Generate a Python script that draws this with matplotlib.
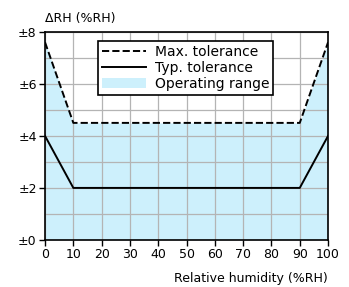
import matplotlib.pyplot as plt
import numpy as np

# data
rh = [0, 10, 90, 100]
max_tol = [7.6, 4.5, 4.5, 7.6]
typ_tol = [4.0, 2.0, 2.0, 4.0]
xticks = list(range(0, 101, 10))
yticks = [0, 2, 4, 6, 8]
ytick_labels = ['±0', '±2', '±4', '±6', '±8']

plt.rcParams['font.family'] = 'DejaVu Sans'
plt.rcParams['font.size'] = 9

fig = plt.figure(figsize=(3.49, 2.87), dpi=100)
ax = fig.add_axes([0.129, 0.164, 0.811, 0.725])

ax.fill_between(rh, 0, max_tol, color='#cdf0fc', lw=0, label='Operating range', zorder=1)
ax.plot(rh, max_tol, 'k--', lw=1.4, label='Max. tolerance', zorder=3)
ax.plot(rh, typ_tol, 'k-', lw=1.4, label='Typ. tolerance', zorder=3)

ax.set_xlim(0, 100)
ax.set_ylim(0, 8)
ax.set_xticks(xticks)
ax.set_yticks(yticks)
ax.set_yticklabels(ytick_labels)
ax.set_yticks(np.arange(0, 8.5, 1), minor=True)
ax.tick_params(which='minor', length=0)
ax.tick_params(which='major', length=4, width=1, pad=2)
ax.grid(True, which='both', color='#b4b4b4', lw=0.9, zorder=2)
ax.set_axisbelow(False)
for s in ax.spines.values():
    s.set_linewidth(1.2)
    s.set_zorder(4)

ax.text(-0.0, 1.035, 'ΔRH (%RH)', transform=ax.transAxes, ha='left', va='bottom', fontsize=9)
ax.set_xlabel('Relative humidity (%RH)', ha='right', x=1.0, labelpad=8)

handles, labels = ax.get_legend_handles_labels()
order = [1, 2, 0]
leg = ax.legend([handles[i] for i in order], [labels[i] for i in order],
                loc='upper center', bbox_to_anchor=(0.496, 0.99), fancybox=False,
                edgecolor='black', framealpha=1, borderpad=0.3, labelspacing=0.15,
                handlelength=3.2, handletextpad=0.6, fontsize=10)
leg.get_frame().set_linewidth(1.2)
leg.set_zorder(5)

fig.savefig('out.png', dpi=100)
